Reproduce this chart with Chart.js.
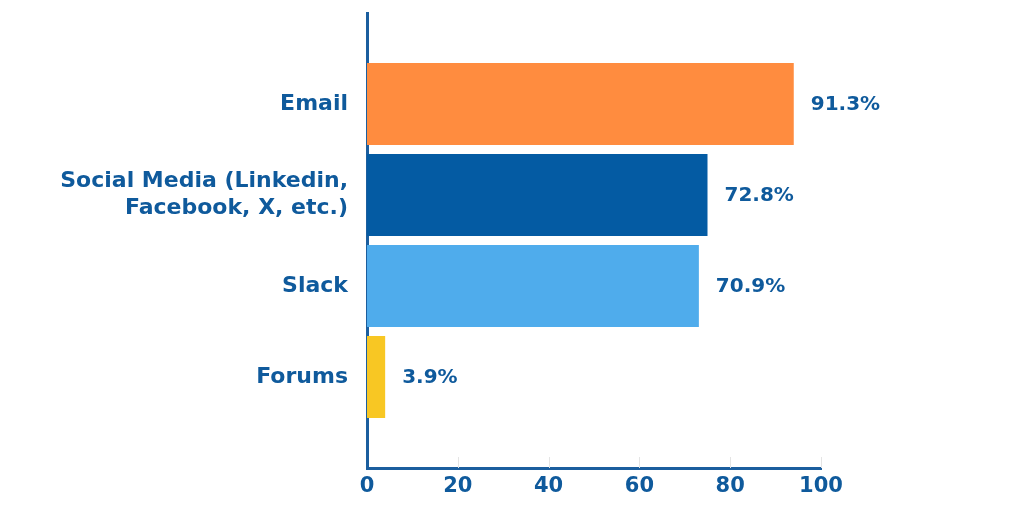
<!DOCTYPE html>
<html>
<head>
<meta charset="utf-8">
<script src="https://cdn.jsdelivr.net/npm/chart.js@4.4.1/dist/chart.umd.min.js"></script>
<style>
  html, body { margin: 0; padding: 0; background: #fff; }
  #wrap { width: 1024px; height: 514px; }
</style>
</head>
<body>
<div id="wrap"><canvas id="chart"></canvas></div>
<script>
const categories = ['Email', ['Social Media (Linkedin,', 'Facebook, X, etc.)'], 'Slack', 'Forums'];
const barValues = [94.0, 75.0, 73.1, 4.0];
const valueLabels = ['91.3%', '72.8%', '70.9%', '3.9%'];
const barColors = ['#FF8C3F', '#045BA3', '#4FACEC', '#F8C723'];
const xTicks = [0, 20, 40, 60, 80, 100];

const textBlue = '#0F5A9C';
const axisBlue = '#1B5E9E';
const family = 'DejaVu Sans';

// empty slots at both ends so the bars sit one step in from the axis ends
const labels = [''].concat(categories, ['']);
const data = [null].concat(barValues, [null]);
const colors = ['#fff'].concat(barColors, ['#fff']);

const valueLabelPlugin = {
    id: 'valueLabels',
    afterDatasetsDraw(chart) {
        const ctx = chart.ctx;
        const meta = chart.getDatasetMeta(0);
        ctx.save();
        ctx.font = `bold 20px ${family}`;
        ctx.fillStyle = textBlue;
        ctx.textBaseline = 'middle';
        ctx.textAlign = 'left';
        meta.data.forEach((bar, i) => {
            if (i === 0 || i > barValues.length) return;
            ctx.fillText(valueLabels[i - 1], bar.x + 17, bar.y + 1);
        });
        ctx.restore();
    }
};

const innerTicksPlugin = {
    id: 'innerTicks',
    beforeDatasetsDraw(chart) {
        const ctx = chart.ctx;
        const x = chart.scales.x;
        const bottom = chart.chartArea.bottom;
        ctx.save();
        ctx.strokeStyle = '#E4E4E4';
        ctx.lineWidth = 1;
        xTicks.slice(1).forEach((v) => {
            const px = Math.round(x.getPixelForValue(v)) + 0.5;
            ctx.beginPath();
            ctx.moveTo(px, bottom - 11);
            ctx.lineTo(px, bottom);
            ctx.stroke();
        });
        ctx.restore();
    }
};

new Chart(document.getElementById('chart'), {
    type: 'bar',
    data: {
        labels,
        datasets: [{
            data,
            backgroundColor: colors,
            borderWidth: 0,
            barPercentage: 0.9,
            categoryPercentage: 1.0
        }]
    },
    options: {
        indexAxis: 'y',
        responsive: true,
        maintainAspectRatio: false,
        animation: false,
        layout: { padding: { top: 13, right: 203, left: 0, bottom: 0 } },
        plugins: {
            legend: { display: false },
            tooltip: { enabled: false }
        },
        scales: {
            x: {
                min: 0,
                max: 100,
                afterBuildTicks: (scale) => {
                    scale.ticks = xTicks.map((v) => ({ value: v }));
                },
                afterFit: (scale) => {
                    scale.height = 46;
                    scale.paddingLeft = 0;
                    scale.paddingRight = 0;
                },
                grid: { display: false },
                border: { display: true, color: axisBlue, width: 3 },
                ticks: { color: textBlue, font: { family, weight: 'bold', size: 21 }, padding: -2 }
            },
            y: {
                offset: false,
                afterFit: (scale) => {
                    scale.width = 367;
                    scale.paddingTop = 0;
                    scale.paddingBottom = 0;
                },
                grid: { display: false },
                border: { display: true, color: axisBlue, width: 3 },
                ticks: { color: textBlue, font: { family, weight: 'bold', size: 22, lineHeight: 1.25 }, padding: 11 }
            }
        }
    },
    plugins: [valueLabelPlugin, innerTicksPlugin]
});
</script>
</body>
</html>
